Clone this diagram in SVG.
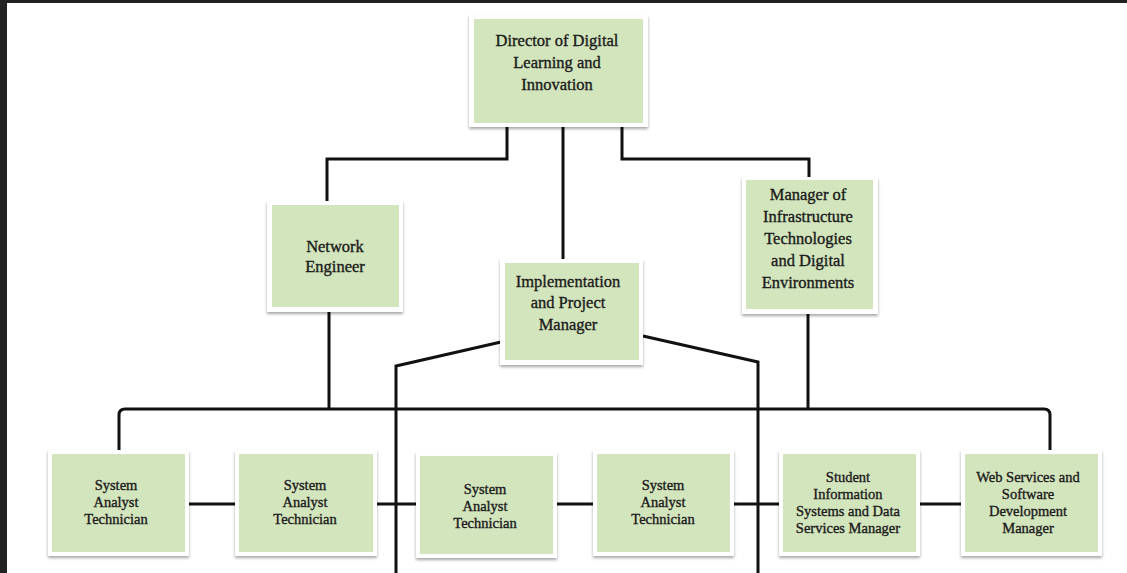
<svg xmlns="http://www.w3.org/2000/svg" width="1127" height="573" viewBox="0 0 1127 573">
<defs>
<filter id="sh" x="-10%" y="-10%" width="120%" height="125%">
<feDropShadow dx="0" dy="2" stdDeviation="1.5" flood-color="#000" flood-opacity="0.35"/>
</filter>
<style>
.frame{fill:#fff;filter:url(#sh)}
.box{fill:#d3e5bd}
.t{font-family:"Liberation Serif","Times New Roman",serif;fill:#1a1a1a;stroke:#1a1a1a;stroke-width:0.35;text-anchor:middle}
.l{font-size:16.5px}
.s{font-size:14.5px}
.c{fill:none;stroke:#111;stroke-width:3}
</style>
</defs>
<rect x="0" y="0" width="1127" height="573" fill="#fff"/>
<rect x="0" y="0" width="1127" height="3" fill="#222"/>
<rect x="0" y="0" width="7" height="573" fill="#222"/>

<g id="connectors">
<path class="c" d="M507,127 V159 H327 V201"/>
<path class="c" d="M563,127 V259"/>
<path class="c" d="M622,127 V159 H809 V177"/>
<path class="c" d="M329,312 V409"/>
<path class="c" d="M808,314 V409"/>
<path class="c" d="M119,454 V415 Q119,409 125,409 H1044 Q1050,409 1050,415 V454"/>
<path class="c" d="M501,342 L396,366 V573"/>
<path class="c" d="M643,336 L758,362 V573"/>
<path class="c" d="M189,504 H235"/>
<path class="c" d="M377,504 H416"/>
<path class="c" d="M557,504 H593"/>
<path class="c" d="M734,504 H779"/>
<path class="c" d="M920,504 H961"/>
</g>

<g id="director">
<rect class="frame" x="469" y="15" width="179" height="112"/>
<rect class="box" x="474" y="19" width="169" height="104"/>
<text class="t l" x="557" y="46">Director of Digital</text>
<text class="t l" x="557" y="68">Learning and</text>
<text class="t l" x="557" y="90">Innovation</text>
</g>

<g id="network-engineer">
<rect class="frame" x="267" y="201" width="136" height="111"/>
<rect class="box" x="272" y="205" width="127" height="102"/>
<text class="t l" x="335" y="252">Network</text>
<text class="t l" x="335" y="272">Engineer</text>
</g>

<g id="implementation-manager">
<rect class="frame" x="500" y="259" width="143" height="106"/>
<rect class="box" x="505" y="263" width="134" height="97"/>
<text class="t l" x="568" y="287">Implementation</text>
<text class="t l" x="568" y="308">and Project</text>
<text class="t l" x="568" y="330">Manager</text>
</g>

<g id="infrastructure-manager">
<rect class="frame" x="742" y="177" width="136" height="137"/>
<rect class="box" x="746" y="180" width="127" height="129"/>
<text class="t l" x="808" y="200">Manager of</text>
<text class="t l" x="808" y="222">Infrastructure</text>
<text class="t l" x="808" y="244">Technologies</text>
<text class="t l" x="808" y="266">and Digital</text>
<text class="t l" x="808" y="288">Environments</text>
</g>

<g id="analyst-1">
<rect class="frame" x="48" y="450" width="141" height="106"/>
<rect class="box" x="52" y="454" width="133" height="98"/>
<text class="t s" x="116" y="490">System</text>
<text class="t s" x="116" y="507">Analyst</text>
<text class="t s" x="116" y="524">Technician</text>
</g>

<g id="analyst-2">
<rect class="frame" x="235" y="450" width="142" height="106"/>
<rect class="box" x="239" y="454" width="134" height="98"/>
<text class="t s" x="305" y="490">System</text>
<text class="t s" x="305" y="507">Analyst</text>
<text class="t s" x="305" y="524">Technician</text>
</g>

<g id="analyst-3">
<rect class="frame" x="416" y="452" width="141" height="106"/>
<rect class="box" x="420" y="456" width="133" height="98"/>
<text class="t s" x="485" y="494">System</text>
<text class="t s" x="485" y="511">Analyst</text>
<text class="t s" x="485" y="528">Technician</text>
</g>

<g id="analyst-4">
<rect class="frame" x="593" y="450" width="141" height="106"/>
<rect class="box" x="597" y="454" width="133" height="98"/>
<text class="t s" x="663" y="490">System</text>
<text class="t s" x="663" y="507">Analyst</text>
<text class="t s" x="663" y="524">Technician</text>
</g>

<g id="student-info-manager">
<rect class="frame" x="779" y="450" width="141" height="106"/>
<rect class="box" x="783" y="454" width="133" height="98"/>
<text class="t s" x="848" y="482">Student</text>
<text class="t s" x="848" y="499">Information</text>
<text class="t s" x="848" y="516">Systems and Data</text>
<text class="t s" x="848" y="533">Services Manager</text>
</g>

<g id="web-services-manager">
<rect class="frame" x="961" y="450" width="141" height="106"/>
<rect class="box" x="965" y="454" width="133" height="98"/>
<text class="t s" x="1028" y="482">Web Services and</text>
<text class="t s" x="1028" y="499">Software</text>
<text class="t s" x="1028" y="516">Development</text>
<text class="t s" x="1028" y="533">Manager</text>
</g>
</svg>
